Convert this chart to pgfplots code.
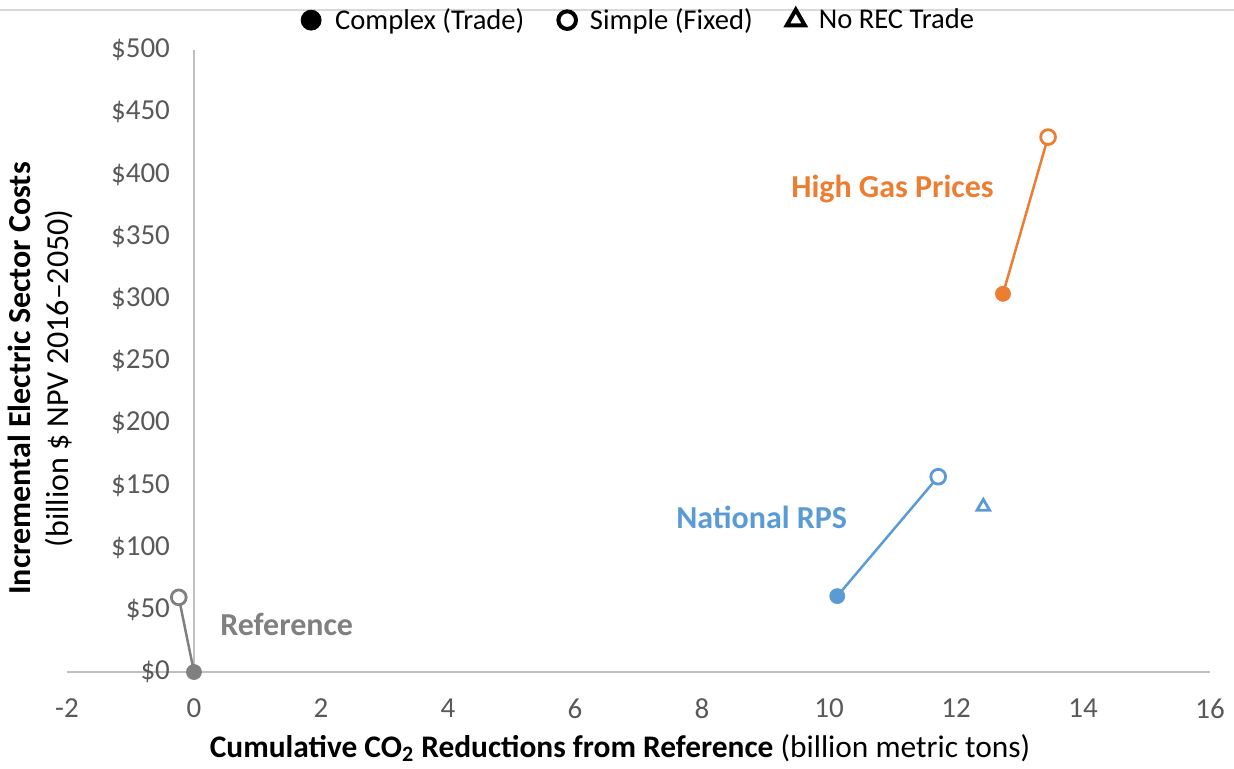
\documentclass[border=0pt]{standalone}
\usepackage{fontspec}
\setmainfont{Carlito}
\usepackage{pgfplots}
\pgfplotsset{compat=1.18}
\definecolor{refgray}{HTML}{808080}
\definecolor{gasorange}{HTML}{ED7D31}
\definecolor{rpsblue}{HTML}{5B9BD5}
\definecolor{ticktext}{HTML}{595959}
\definecolor{axisgray}{HTML}{BFBFBF}
\definecolor{bordergray}{HTML}{D9D9D9}
\begin{document}
\begin{tikzpicture}
\begin{axis}[
  scale only axis,
  width=571.5pt, height=311pt,
  xmin=-2, xmax=16, ymin=0, ymax=500,
  axis x line=bottom, axis y line=left,
  x axis line style={-, draw=axisgray, line width=0.8pt},
  y axis line style={draw=none},
  xtick={-2,0,...,16}, ytick={0,50,...,500},
  major tick length=0pt,
  tick label style={font=\fontsize{14.5}{17}\selectfont, text=ticktext},
  /pgf/number format/assume math mode=true,
  yticklabel={\$\pgfmathprintnumber{\tick}},
  xticklabel style={yshift=-10pt},
  yticklabel style={xshift=55pt},
  clip=false,
  legend style={at={(0.501,1.048)}, anchor=center, draw=none, fill=none,
    font=\fontsize{14.3}{17}\selectfont, legend columns=3,
    /tikz/every odd column/.append style={column sep=5pt},
    /tikz/every even column/.append style={column sep=15pt}},
]
% y axis line at x = 0
\draw[axisgray, line width=0.8pt] (axis cs:0,0) -- (axis cs:0,500);

% legend images
\addlegendimage{only marks, mark=*, mark size=5pt, black}
\addlegendentry{Complex (Trade)}
\addlegendimage{only marks, mark=*, mark size=4.4pt, mark options={draw=black, fill=white, line width=2pt}}
\addlegendentry{Simple (Fixed)}
\addlegendimage{only marks, mark=triangle, mark size=5.2pt, mark options={draw=black, line width=2pt}}
\addlegendentry{No REC Trade}

% Reference
\addplot[forget plot, refgray, line width=1.25pt, mark=none] coordinates {(0,0) (-0.24,60)};
\addplot[forget plot, only marks, mark=*, mark size=3.75pt, refgray] coordinates {(0,0)};
\addplot[forget plot, only marks, mark=*, mark size=3.7pt, mark options={draw=refgray, fill=white, line width=1.4pt}] coordinates {(-0.24,60)};

% High Gas Prices
\addplot[forget plot, gasorange, line width=1.25pt, mark=none] coordinates {(12.74,304) (13.45,430)};
\addplot[forget plot, only marks, mark=*, mark size=3.75pt, gasorange] coordinates {(12.74,304)};
\addplot[forget plot, only marks, mark=*, mark size=3.7pt, mark options={draw=gasorange, fill=white, line width=1.4pt}] coordinates {(13.45,430)};

% National RPS
\addplot[forget plot, rpsblue, line width=1.25pt, mark=none] coordinates {(10.13,61) (11.72,157)};
\addplot[forget plot, only marks, mark=*, mark size=3.75pt, rpsblue] coordinates {(10.13,61)};
\addplot[forget plot, only marks, mark=*, mark size=3.7pt, mark options={draw=rpsblue, fill=white, line width=1.4pt}] coordinates {(11.72,157)};
\addplot[forget plot, only marks, mark=triangle, mark size=3.6pt, mark options={draw=rpsblue, line width=1.4pt}] coordinates {(12.43,133)};

% series labels
\node[font=\fontsize{16}{19}\selectfont\bfseries, text=refgray] at (axis cs:1.46,38) {Reference};
\node[font=\fontsize{16}{19}\selectfont\bfseries, text=gasorange] at (axis cs:11.0,388) {High Gas Prices};
\node[font=\fontsize{16}{19}\selectfont\bfseries, text=rpsblue] at (axis cs:8.94,124) {National RPS};

% axis titles
\node[rotate=90, align=center, font=\fontsize{16}{19}\selectfont] at (axis cs:-2.42,236)
  {\textbf{Incremental Electric Sector Costs}\\(billion \$ NPV 2016–2050)};
\node[font=\fontsize{15.7}{19}\selectfont] at (axis cs:6.71,-61.1)
  {\textbf{Cumulative CO\textsubscript{2} Reductions from Reference} (billion metric tons)};

% chart border at top
\draw[bordergray, line width=0.8pt] (axis cs:-3.055,532) -- (axis cs:16.378,532);
\coordinate (bbsw) at (axis cs:-3.055,-77.97);
\coordinate (bbne) at (axis cs:16.378,540.2);
\end{axis}
\pgfresetboundingbox
\path[use as bounding box] (bbsw) rectangle (bbne);
\end{tikzpicture}
\end{document}
